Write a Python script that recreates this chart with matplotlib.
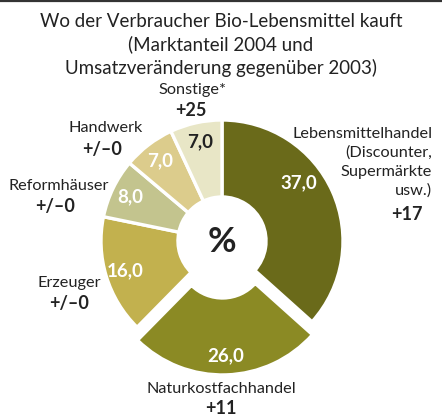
import matplotlib
matplotlib.use("Agg")
import matplotlib.pyplot as plt
import numpy as np

# ---- data ----
categories = ["Lebensmittelhandel\n(Discounter,\nSupermärkte\nusw.)", "Naturkostfachhandel",
              "Erzeuger", "Reformhäuser", "Handwerk", "Sonstige*"]
shares = [37.0, 26.0, 16.0, 8.0, 7.0, 7.0]
changes = ["+17", "+11", "+/\u20130", "+/\u20130", "+/\u20130", "+25"]
share_labels = ["37,0", "26,0", "16,0", "8,0", "7,0", "7,0"]
title = "Wo der Verbraucher Bio-Lebensmittel kauft\n(Marktanteil 2004 und\nUmsatzveränderung gegenüber 2003)"

colors = ["#6a6a1a", "#8b8a24", "#c2b14e", "#c3c48e", "#dccc8c", "#e8e6c6"]
value_colors = ["white", "white", "white", "white", "white", "#222222"]
explode = [0, 0.107, 0, 0, 0, 0]
label_angle_shift = [13, 0, 0, 0, 0, 0]

FONT = ["Lato", "DejaVu Sans"]
plt.rcParams["font.family"] = FONT

W, H = 442, 416
fig = plt.figure(figsize=(W / 100, H / 100), dpi=100)
ax = fig.add_axes([0, 0, 1, 1])
cx, cy, R = 222, 241, 121.0

def px(x, y):
    return ((x - cx) / R, (cy - y) / R)

wedges, _ = ax.pie(shares, colors=colors, startangle=90, counterclock=False,
                   explode=explode, radius=1.0,
                   wedgeprops=dict(width=0.636, edgecolor="white", linewidth=2.4))
ax.set_xlim(-cx / R, (W - cx) / R)
ax.set_ylim(-(H - cy) / R, cy / R)
ax.set_aspect("equal")
ax.axis("off")

for w, lab, col, sh in zip(wedges, share_labels, value_colors, label_angle_shift):
    ang = np.deg2rad((w.theta1 + w.theta2) / 2 + sh)
    r = 0.84 if sh == 0 else 0.80
    x0, y0 = w.center
    ax.text(x0 + r * np.cos(ang), y0 + r * np.sin(ang), lab, color=col,
            fontsize=13.5, fontweight="bold", ha="center", va="center")

ax.text(*px(222, 242), "%", fontsize=25, fontweight="bold", color="#222222",
        ha="center", va="center")

# outside labels (pixel anchors)
name_pos = [(432, 134, "right"), (221, 389, "center"), (69, 283, "center"),
            (59, 186, "center"), (106, 128, "center"), (192, 90, "center")]
change_pos = [(407, 214), (221, 408), (69, 303), (55, 206), (102, 149), (191, 110)]
line_step = 18.8
for cat, ch, (nx, ny, ha), (chx, chy) in zip(categories, changes, name_pos, change_pos):
    for i, line in enumerate(cat.split("\n")):
        ax.text(*px(nx, ny + i * line_step), line, fontsize=11.7, color="#222222",
                ha=ha, va="center")
    ax.text(*px(chx, chy), ch, fontsize=13, fontweight="bold", color="#222222",
            ha="center", va="center")

fig.text(0.5, 1 - 13 / H, title, fontsize=13.5, color="#222222", ha="center", va="top",
         linespacing=1.36)
fig.add_artist(plt.Line2D([0, 1], [1 - 1 / H, 1 - 1 / H], color="#333333", lw=1.6))

fig.savefig("out.png", dpi=100, facecolor="white")
